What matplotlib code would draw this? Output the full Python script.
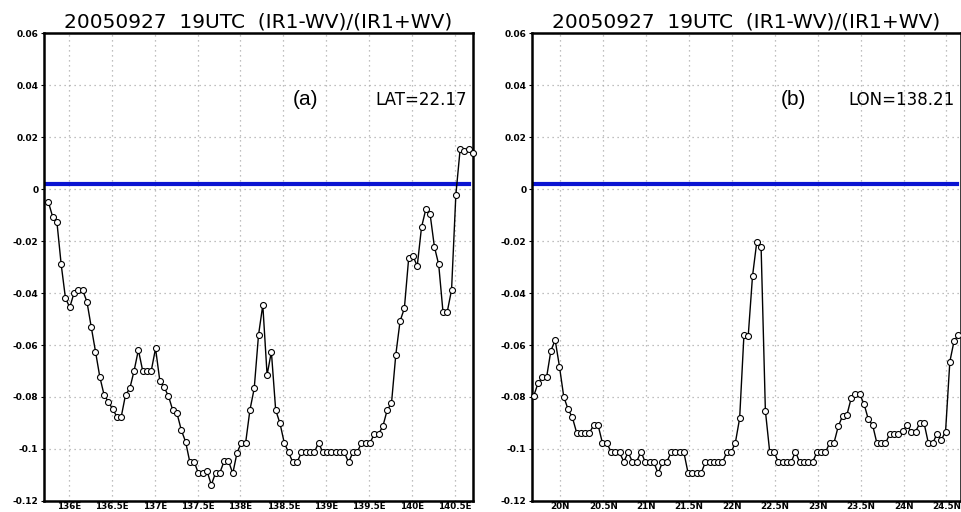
import numpy as np
import matplotlib
matplotlib.use("Agg")
import matplotlib.pyplot as plt

# (IR1-WV)/(IR1+WV) cross sections through the center, 20050927 19UTC
lon = np.round(135.76 + 0.05 * np.arange(100), 2)
ratio_lon = [
    -0.0049, -0.0106, -0.0126, -0.0290, -0.0420, -0.0455, -0.0400, -0.0389, -0.0389, -0.0433,
    -0.0530, -0.0625, -0.0722, -0.0792, -0.0818, -0.0847, -0.0876, -0.0876, -0.0792, -0.0767,
    -0.0699, -0.0619, -0.0699, -0.0699, -0.0699, -0.0613, -0.0738, -0.0763, -0.0796, -0.0850,
    -0.0863, -0.0927, -0.0972, -0.1051, -0.1049, -0.1094, -0.1094, -0.1085, -0.1138, -0.1091,
    -0.1091, -0.1046, -0.1046, -0.1094, -0.1014, -0.0976, -0.0976, -0.0850, -0.0767, -0.0562,
    -0.0446, -0.0715, -0.0626, -0.0850, -0.0901, -0.0976, -0.1013, -0.1051, -0.1051, -0.1013,
    -0.1013, -0.1013, -0.1013, -0.0976, -0.1013, -0.1013, -0.1013, -0.1013, -0.1013, -0.1013,
    -0.1051, -0.1013, -0.1013, -0.0976, -0.0976, -0.0976, -0.0942, -0.0942, -0.0912, -0.0850,
    -0.0824, -0.0638, -0.0508, -0.0459, -0.0267, -0.0258, -0.0296, -0.0147, -0.0078, -0.0097,
    -0.0222, -0.0290, -0.0472, -0.0472, -0.0388, -0.0023, 0.0153, 0.0147, 0.0153, 0.0137,
]

lat = np.round(19.69 + 0.05 * np.arange(100), 2)
ratio_lat = [
    -0.0796, -0.0747, -0.0724, -0.0724, -0.0622, -0.0581, -0.0683, -0.0799, -0.0847, -0.0878,
    -0.0937, -0.0937, -0.0937, -0.0937, -0.0908, -0.0908, -0.0976, -0.0976, -0.1010, -0.1010,
    -0.1013, -0.1049, -0.1013, -0.1049, -0.1049, -0.1010, -0.1051, -0.1051, -0.1051, -0.1094,
    -0.1051, -0.1051, -0.1013, -0.1013, -0.1013, -0.1013, -0.1094, -0.1094, -0.1094, -0.1094,
    -0.1051, -0.1051, -0.1051, -0.1051, -0.1051, -0.1013, -0.1013, -0.0976, -0.0882, -0.0562,
    -0.0565, -0.0335, -0.0203, -0.0222, -0.0853, -0.1010, -0.1010, -0.1051, -0.1051, -0.1051,
    -0.1051, -0.1010, -0.1051, -0.1051, -0.1051, -0.1051, -0.1013, -0.1013, -0.1013, -0.0976,
    -0.0976, -0.0912, -0.0873, -0.0869, -0.0805, -0.0790, -0.0790, -0.0827, -0.0886, -0.0908,
    -0.0978, -0.0978, -0.0978, -0.0942, -0.0942, -0.0942, -0.0931, -0.0909, -0.0933, -0.0933,
    -0.0901, -0.0901, -0.0978, -0.0978, -0.0942, -0.0965, -0.0933, -0.0664, -0.0583, -0.0562,
]

threshold = 0.002
center_lat = 22.17
center_lon = 138.21

lon_ticks = [136, 136.5, 137, 137.5, 138, 138.5, 139, 139.5, 140, 140.5]
lat_ticks = [20, 20.5, 21, 21.5, 22, 22.5, 23, 23.5, 24, 24.5]
y_ticks = [0.06, 0.04, 0.02, 0, -0.02, -0.04, -0.06, -0.08, -0.1, -0.12]
y_labels = ["0.06", "0.04", "0.02", "0", "-0.02", "-0.04", "-0.06", "-0.08", "-0.1", "-0.12"]

title = "20050927  19UTC  (IR1-WV)/(IR1+WV)"

fig = plt.figure(figsize=(9.61, 5.12), dpi=100)
ax1 = fig.add_axes([0.0458, 0.0215, 0.4464, 0.914])
ax2 = fig.add_axes([0.5536, 0.0215, 0.4464, 0.914])


def draw_panel(ax, x, y, xlim, xticks, hemi, tag, label):
    ax.set_xlim(xlim)
    ax.set_ylim(-0.12, 0.06)
    ax.grid(True, color="#aaaaaa", linestyle=(0, (1, 3)), linewidth=0.9)
    ax.set_axisbelow(True)
    ax.axhline(threshold, xmin=0, xmax=0.99, color="#0a14d2", linewidth=3, zorder=2)
    ax.plot(x, y, color="black", linewidth=1, marker="o", markersize=4.3,
            markerfacecolor="white", markeredgecolor="black", markeredgewidth=0.8,
            zorder=3, clip_on=False)
    ax.set_xticks(xticks)
    ax.set_xticklabels([("%g" % t) + hemi for t in xticks],
                       fontsize=6.3, fontweight="bold")
    ax.set_yticks(y_ticks)
    ax.set_yticklabels(y_labels, fontsize=6.5, fontweight="bold")
    ax.tick_params(axis="y", length=2, width=0.8, pad=2)
    ax.tick_params(axis="x", length=0, pad=0.8)
    for s in ax.spines.values():
        s.set_linewidth(1.8)
    ax.set_title(title, fontsize=14.5, pad=4, family="DejaVu Sans")
    ax.text(0.61, 0.857, tag, transform=ax.transAxes, fontsize=15,
            ha="center", va="center", family="Liberation Sans")
    ax.text(0.985, 0.857, label, transform=ax.transAxes, fontsize=12,
            ha="right", va="center", family="DejaVu Sans")


draw_panel(ax1, lon, ratio_lon, (135.71, 140.71), lon_ticks, "E",
           "(a)", "LAT=%.2f" % center_lat)
draw_panel(ax2, lat, ratio_lat, (19.67, 24.67), lat_ticks, "N",
           "(b)", "LON=%.2f" % center_lon)

fig.savefig("out.png", dpi=100)
